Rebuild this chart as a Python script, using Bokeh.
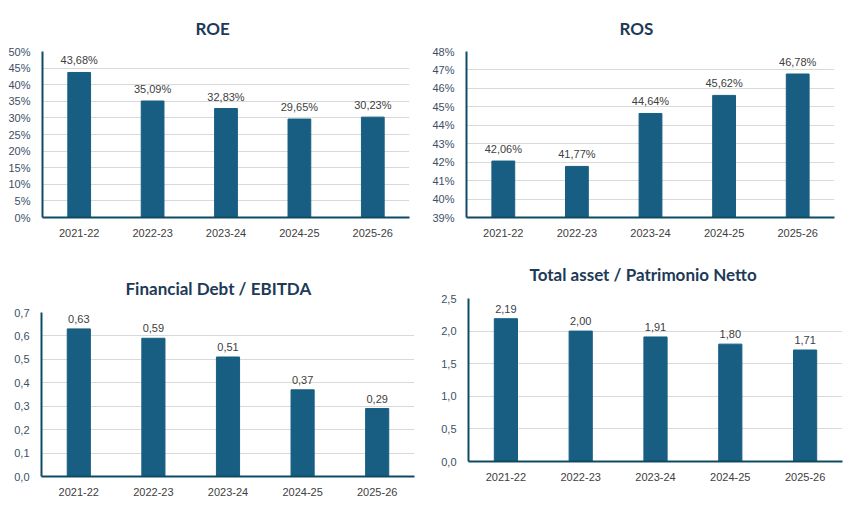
from bokeh.plotting import figure
from bokeh.layouts import column, row
from bokeh.models import FactorRange, Range1d, FixedTicker, CustomJSTickFormatter, ColumnDataSource
from bokeh.core.properties import value
from bokeh.embed import file_html
from bokeh.resources import INLINE

years = ["2021-22", "2022-23", "2023-24", "2024-25", "2025-26"]

roe = [43.68, 35.09, 32.83, 29.65, 30.23]
ros = [42.06, 41.77, 44.64, 45.62, 46.78]
debt_ebitda = [0.63, 0.59, 0.51, 0.37, 0.29]
asset_equity = [2.19, 2.00, 1.91, 1.80, 1.71]

roe_ticks = [0, 5, 10, 15, 20, 25, 30, 35, 40, 45, 50]
ros_ticks = [39, 40, 41, 42, 43, 44, 45, 46, 47, 48]
debt_ticks = [0.0, 0.1, 0.2, 0.3, 0.4, 0.5, 0.6, 0.7]
asset_ticks = [0.0, 0.5, 1.0, 1.5, 2.0, 2.5]

BAR = "#175e82"
AXIS = "#0f4a64"
GRID = "#d9d9d9"
TITLE_C = "#1d3a57"
YTICK_C = "#3c4f66"
XTICK_C = "#404040"
LABEL_C = "#404040"
TICK_FONT = "Liberation Sans"
TITLE_FONT = "Lato"


def make_panel(title, vals, ticks, pct, w, h, bl, br, bt, bb, t_off, t_stand):
    labels = [("%.2f" % v).replace(".", ",") + ("%" if pct else "") for v in vals]
    src = ColumnDataSource(dict(x=years, top=vals, lab=labels))
    p = figure(width=w, height=h, x_range=FactorRange(*years),
               y_range=Range1d(ticks[0], ticks[-1]),
               output_backend="svg", toolbar_location=None, title=title,
               min_border_left=bl, min_border_right=br,
               min_border_top=bt, min_border_bottom=bb)
    p.x_range.range_padding = 0
    p.vbar(x="x", top="top", bottom=ticks[0], width=0.31, color=BAR, source=src)
    p.text(x="x", y="top", text="lab", source=src, text_align="center",
           text_baseline="bottom", y_offset=-6, text_font=value(TICK_FONT),
           text_font_size="11px", text_color=LABEL_C)
    p.title.align = "left"
    p.title.offset = t_off
    p.title.standoff = t_stand
    p.title.text_font = TITLE_FONT
    p.title.text_font_size = "17px"
    p.title.text_font_style = "bold"
    p.title.text_color = TITLE_C
    p.outline_line_color = None
    p.xgrid.grid_line_color = None
    p.ygrid.grid_line_color = GRID
    p.ygrid.grid_line_width = 1
    p.yaxis.ticker = FixedTicker(ticks=ticks)
    p.ygrid.ticker = FixedTicker(ticks=ticks)
    if pct:
        p.yaxis.formatter = CustomJSTickFormatter(code="return Math.round(tick) + '%';")
    else:
        p.yaxis.formatter = CustomJSTickFormatter(code="return tick.toFixed(1).replace('.', ',');")
    for ax in (p.xaxis, p.yaxis):
        ax.axis_line_color = AXIS
        ax.axis_line_width = 2
        ax.major_tick_line_color = None
        ax.minor_tick_line_color = None
        ax.major_tick_in = 0
        ax.major_tick_out = 0
        ax.major_label_text_font = TICK_FONT
        ax.major_label_text_font_size = "11px"
    p.yaxis.major_label_text_color = YTICK_C
    p.xaxis.major_label_text_color = XTICK_C
    p.yaxis.major_label_standoff = 12
    p.xaxis.major_label_standoff = 11
    return p


p1 = make_panel("ROE", roe, roe_ticks, True, 428, 260, 42, 19, 51, 43, 153, 26)
p3 = make_panel("Financial Debt / EBITDA", debt_ebitda, debt_ticks, False, 428, 260, 41, 14, 52, 44, 84, 27)
p2 = make_panel("ROS", ros, ros_ticks, True, 429, 246, 38, 23, 51, 29, 153, 26)
p4 = make_panel("Total asset /  Patrimonio Netto", asset_equity, asset_ticks, False, 429, 274, 40, 15, 52, 59, 61, 27)

layout = row(column(column(p1), column(p3)), column(column(p2), column(p4)))
open("out.html", "w").write(file_html(layout, INLINE))
